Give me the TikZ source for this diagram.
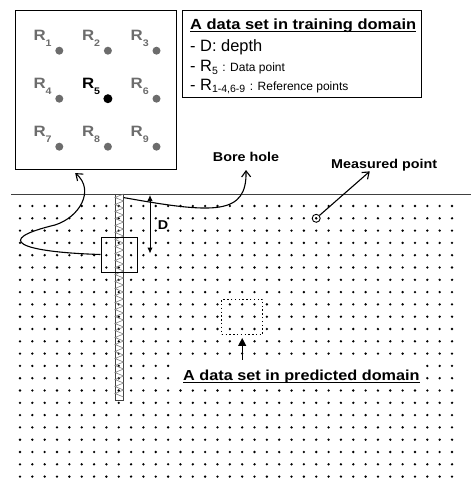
\documentclass[tikz,border=0pt]{standalone}
\usepackage{fontspec}
\setmainfont{Liberation Sans}
\newfontfamily\wb{Liberation Sans}[FakeStretch=1.12]
\usetikzlibrary{arrows.meta}
\definecolor{refgray}{RGB}{108,108,108}
\newcommand{\gsub}[2]{#1\raisebox{-6.5pt}{\fontsize{9.5}{10}\selectfont #2}}
\newcommand{\tsub}[2]{#1\raisebox{-2.5pt}{\fontsize{10.5}{11}\selectfont #2}}
\newcommand{\ulbold}[1]{\setbox0=\hbox{#1}\rlap{\rule[-2.8pt]{\wd0}{1.2pt}}\box0}
\begin{document}
\begin{tikzpicture}
  [x=1pt,y=-1pt,every node/.style={inner sep=0pt},
   refdot/.style={circle,fill=refgray,minimum size=8pt},
   reflab/.style={anchor=base west,text=refgray,font=\wb\bfseries\fontsize{15}{15}\selectfont},
   barb/.style={line width=1.1pt,-{Straight Barb[length=6pt,width=9pt]}},
   boldlab/.style={font=\wb\bfseries\fontsize{12.8}{13}\selectfont},
   boxtxt/.style={anchor=base west,font=\fontsize{16.4}{17}\selectfont}]
\useasboundingbox (0,0) rectangle (476,493);

\foreach \i in {0,...,35}
  \foreach \j in {0,...,22}
    \fill (20+\i*12.343,206+\j*12.3) circle (1.3pt);

\draw[line width=1pt,darkgray] (11,194) -- (471,194);

\node (bore)[draw=darkgray,line width=0.8pt,minimum width=8.5pt,minimum height=206pt] at (119.2,297) {};
\foreach \k in {0,...,28}
  \draw[gray,line width=0.6pt] (123.5,194+7*\k) -- (115,197.5+7*\k) -- (123.5,201+7*\k);

\node (wellsq)[draw,line width=1pt,minimum width=36pt,minimum height=35pt] at (119,254.5) {};
\node (predsq)[draw,line width=1.3pt,dash pattern=on 1.4pt off 2.4pt,minimum width=41pt,minimum height=35pt] at (242.2,316.8) {};

\node (bigbox)[draw,line width=1.5pt,minimum width=161pt,minimum height=158.6pt] at (96.2,90) {};
\foreach \n/\c/\r in {1/0/0,2/1/0,3/2/0,4/0/1,6/2/1,7/0/2,8/1/2,9/2/2} {
  \node (r\n)[refdot] at (59.3+48.6*\c,50.7+48*\r) {};
  \node (l\n)[reflab] at ([shift={(-26,-10.7)}]r\n.center) {\gsub{R}{\n}};
}
\node (r5)[circle,fill=black,minimum size=9pt] at (107.9,98.7) {};
\node (l5)[reflab,text=black] at ([shift={(-26,-10.7)}]r5.center) {\gsub{R}{5}};

\node (infobox)[draw,line width=1pt,minimum width=239pt,minimum height=87.3pt] at (301.5,53.7) {};
\node (t1)[anchor=base west,font=\wb\bfseries\fontsize{14.7}{15}\selectfont] at (190,29.3) {\ulbold{A data set in training domain}};
\node (t2)[boxtxt] at (190,51.7) {- D: depth};
\node (t3)[boxtxt] at (190,71.7) {- \tsub{R}{5} {\fontsize{12}{12}\selectfont: Data point}};
\node (t4)[boxtxt] at (190,90) {- \tsub{R}{1-4,6-9} {\fontsize{12}{12}\selectfont: Reference points}};

\coordinate (dtop) at (150,195);
\coordinate (dbot) at (150,253.5);
\draw[line width=1pt,{Latex[length=6pt,width=5.5pt]}-{Latex[length=6pt,width=5.5pt]}] (dtop) -- (dbot);
\node (dlab)[boldlab] at (163,225) {D};

\node (bhlab)[boldlab,anchor=base] at (246,161.7) {Bore hole};
\draw[barb] ([yshift=-4pt]bore.north east) .. controls (215,214) and (247,215) .. ([yshift=-8pt]bhlab.south);

\node (mp)[circle,draw,line width=0.9pt,minimum size=8pt] at (316.2,218.3) {};
\fill (mp.center) circle (1.2pt);
\node (mplab)[boldlab,anchor=base west] at (331,168.5) {Measured point};
\draw[barb] (mp) -- ([xshift=-14.4pt]mplab.south);

\draw[barb] (wellsq.west) .. controls (20,252) and (-8,240) .. (55,225)
  .. controls (80,217) and (95,190) .. ([shift={(-21,3)}]bigbox.south);

\node (predlab)[fill=white,anchor=base west,inner xsep=4pt,text height=19pt,text depth=8pt,
  font=\wb\bfseries\fontsize{14.5}{15}\selectfont] at (179,380) {\ulbold{A data set in predicted domain}};
\draw[line width=1.1pt,shorten <=1pt,shorten >=3pt,-{Triangle[length=8pt,width=8pt]}] (predsq.south |- predlab.north) -- (predsq.south);
\end{tikzpicture}
\end{document}
